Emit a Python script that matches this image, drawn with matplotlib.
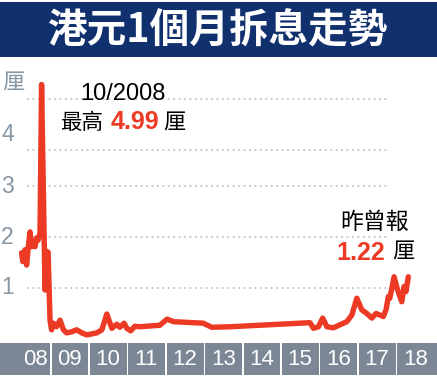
import matplotlib
matplotlib.use("Agg")
import matplotlib.pyplot as plt
from matplotlib.patches import Rectangle

plt.rcParams['font.family'] = ['Liberation Sans', 'Noto Sans CJK TC', 'DejaVu Sans']

# ---- data (decimal year, HIBOR 1-month %) ----
years = [2008.25, 2008.28, 2008.34, 2008.38, 2008.42, 2008.47, 2008.51, 2008.55, 2008.60,
         2008.64, 2008.68, 2008.73, 2008.77, 2008.86, 2008.90, 2008.94, 2008.99, 2009.03,
         2009.08, 2009.16, 2009.25, 2009.34, 2009.42, 2009.55, 2009.68, 2009.82, 2009.95,
         2010.21, 2010.34, 2010.47, 2010.60, 2010.73, 2010.81, 2010.92, 2010.99, 2011.09,
         2011.20, 2011.33, 2011.85, 2012.04, 2012.20, 2012.98, 2013.20, 2013.68, 2014.46,
         2015.76, 2015.85, 2015.98, 2016.09, 2016.20, 2016.37, 2016.72, 2016.85, 2016.98,
         2017.11, 2017.24, 2017.37, 2017.48, 2017.58, 2017.67, 2017.74, 2017.80, 2017.84,
         2017.95, 2018.03, 2018.15, 2018.21, 2018.26, 2018.32]
rates = [1.69, 1.52, 1.75, 1.45, 1.78, 2.10, 1.81, 1.91, 1.81,
         1.98, 1.94, 2.08, 4.99, 0.96, 1.72, 1.70, 0.37, 0.18,
         0.31, 0.24, 0.37, 0.18, 0.12, 0.14, 0.18, 0.12, 0.08,
         0.12, 0.18, 0.49, 0.21, 0.29, 0.23, 0.31, 0.21, 0.16,
         0.25, 0.24, 0.27, 0.39, 0.34, 0.31, 0.23, 0.24, 0.27,
         0.32, 0.21, 0.24, 0.41, 0.24, 0.22, 0.34, 0.47, 0.80,
         0.57, 0.50, 0.41, 0.50, 0.47, 0.44, 0.57, 0.83, 0.80,
         1.22, 0.99, 0.73, 1.03, 0.93, 1.22]

ytick_vals = [1, 2, 3, 4]
ytick_labels = ['1', '2', '3', '4']
grid_vals = [1, 2, 3, 3.7, 4.7]
year_boxes = list(range(2008, 2019))
year_labels = ['08', '09', '10', '11', '12', '13', '14', '15', '16', '17', '18']

title = '港元1個月拆息走勢'
unit = '厘'

W, H = 437, 377
fig = plt.figure(figsize=(W / 100, H / 100), dpi=100)
fig.patch.set_facecolor('white')

def fx(px):
    return px / W

def fy(py):
    return 1 - py / H

# title bar
fig.patches.append(Rectangle((0, fy(57)), 1, fy(2) - fy(57), transform=fig.transFigure,
                             facecolor='#10306e', edgecolor='none', zorder=0))
fig.text(0.5, fy(31), title, color='white', fontsize=28.5, fontweight='bold',
         ha='center', va='center', family=['Noto Sans CJK TC'])

# main axes
x0 = 2008 - 12 / 38.4
x1 = x0 + W / 38.4
ax = fig.add_axes([0, fy(340), 1, fy(60) - fy(340)])
ax.set_xlim(x0, x1)
ax.set_ylim((339 - 340) / 51, (339 - 60) / 51)
ax.axis('off')

gx0 = x0 + 27 / 38.4
gx1 = x0 + 390 / 38.4
for g in grid_vals:
    ax.hlines(g, gx0, gx1, colors='#bfc4c9', linestyles=(0, (1, 2)), linewidth=1.3, zorder=1)

ax.plot(years, rates, color='#ec3a25', linewidth=3.9, solid_joinstyle='round',
        solid_capstyle='round', zorder=3, clip_on=False)

# y labels
for v, lab in zip(ytick_vals, ytick_labels):
    py = 339 - v * 51
    fig.text(fx(1), fy(py), lab, color='#8796a4', fontsize=16.5, ha='left', va='center')
fig.text(fx(2), fy(84), unit, color='#8796a4', fontsize=16, ha='left', va='center')

# annotations
fig.text(fx(123), fy(94), '10/2008', color='black', fontsize=17, ha='center', va='center')
fig.text(fx(60), fy(124), '最高', color='black', fontsize=15.5, ha='left', va='center')
fig.text(fx(135), fy(122), '4.99', color='#ec3a25', fontsize=18, fontweight='bold',
         ha='center', va='center')
fig.text(fx(174), fy(124), unit, color='black', fontsize=16, ha='center', va='center')

fig.text(fx(375), fy(222), '昨曾報', color='black', fontsize=16.5, ha='center', va='center')
fig.text(fx(361), fy(253), '1.22', color='#ec3a25', fontsize=18, fontweight='bold',
         ha='center', va='center')
fig.text(fx(403), fy(253), unit, color='black', fontsize=16, ha='center', va='center')

# bottom year bar
axb = fig.add_axes([0, fy(375), 1, fy(343) - fy(375)])
axb.set_xlim(x0, x1)
axb.set_ylim(0, 1)
axb.axis('off')
for i, (yb, lab) in enumerate(zip(year_boxes, year_labels)):
    left = yb + 0.03 if i > 0 else x0
    right = yb + 0.99 if i < len(year_boxes) - 1 else x1
    axb.add_patch(Rectangle((left, 0), right - left, 1, facecolor='#7b8794', edgecolor='none'))
    cx = yb + 0.5 + (0.1 if i == 0 else 0)
    axb.text(cx, 0.47, lab, color='white', fontsize=16, ha='center', va='center')

fig.savefig('out.png', dpi=100)
